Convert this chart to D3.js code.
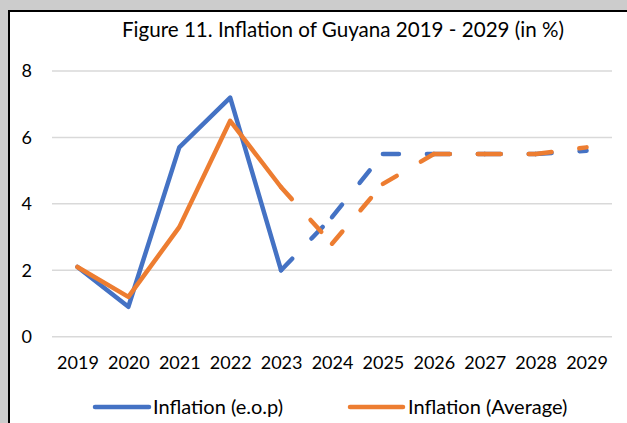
<!DOCTYPE html>
<html>
<head>
<meta charset="utf-8">
<script src="https://cdn.jsdelivr.net/npm/d3@7"></script>
<style>
  html, body { margin: 0; padding: 0; background: #cccccc; }
  svg { display: block; }
  text { font-family: Lato, "Open Sans", sans-serif; fill: #000; }
</style>
</head>
<body>
<svg id="chart" width="627" height="423"></svg>
<script>
const title = "Figure 11. Inflation of Guyana 2019 - 2029 (in %)";
const years = ["2019","2020","2021","2022","2023","2024","2025","2026","2027","2028","2029"];
const eop = [2.1, 0.9, 5.7, 7.2, 2.0, 3.6, 5.5, 5.5, 5.5, 5.5, 5.6];
const avg = [2.1, 1.2, 3.3, 6.5, 4.5, 2.8, 4.6, 5.5, 5.5, 5.5, 5.7];
const yTicks = [0, 2, 4, 6, 8];
const seriesNames = ["Inflation (e.o.p)", "Inflation (Average)"];
const colors = ["#4472C4", "#ED7D31"];
const forecastStart = 4; // index of 2023: segments after it are dashed

const svg = d3.select("#chart");
// chart frame (extends beyond the visible window on right/bottom)
svg.append("rect").attr("x", 9).attr("y", 11).attr("width", 680).attr("height", 440)
  .attr("fill", "#fff").attr("stroke", "#000").attr("stroke-width", 2);

const x = d3.scalePoint().domain(years).range([52, 612]).padding(0.5);
const y = d3.scaleLinear().domain([0, 8]).range([336.7, 71]);

// gridlines
svg.append("g").selectAll("line").data(yTicks).join("line")
  .attr("x1", 52).attr("x2", 612)
  .attr("y1", d => y(d)).attr("y2", d => y(d))
  .attr("stroke", "#d9d9d9").attr("stroke-width", 1.5);

// y axis labels
const yAxis = d3.axisLeft(y).tickValues(yTicks).tickSize(0).tickPadding(0);
const gy = svg.append("g").attr("transform", "translate(32,0)").call(yAxis);
gy.select(".domain").remove();
gy.selectAll("text").attr("font-size", 18).attr("font-family", "Lato, sans-serif").attr("fill", "#000");

// x axis labels
const xAxis = d3.axisBottom(x).tickSize(0).tickPadding(0);
const gx = svg.append("g").attr("transform", "translate(0,356)").call(xAxis);
gx.select(".domain").remove();
gx.selectAll("text").attr("font-size", 18).attr("font-family", "Lato, sans-serif").attr("fill", "#000");

// series
const line = d3.line().x(d => x(d.year)).y(d => y(d.v));
[eop, avg].forEach((vals, si) => {
  const pts = years.map((yr, i) => ({year: yr, v: vals[i]}));
  const g = svg.append("g");
  g.append("path").attr("d", line(pts.slice(0, forecastStart + 1)))
    .attr("fill", "none").attr("stroke", colors[si]).attr("stroke-width", 4.5)
    .attr("stroke-linejoin", "round").attr("stroke-linecap", "round");
  for (let i = forecastStart; i < pts.length - 1; i++) {
    g.append("path").attr("d", line([pts[i], pts[i + 1]]))
      .attr("fill", "none").attr("stroke", colors[si]).attr("stroke-width", 4.5)
      .attr("stroke-dasharray", "16 28").attr("stroke-linecap", "round");
  }
});

// title
svg.append("text").attr("x", 343).attr("y", 37).attr("text-anchor", "middle")
  .attr("font-size", 20.6).text(title);

// legend
const legend = [{x1: 95, x2: 149, tx: 153}, {x1: 350, x2: 403, tx: 408}];
legend.forEach((l, i) => {
  svg.append("line").attr("x1", l.x1).attr("x2", l.x2).attr("y1", 407).attr("y2", 407)
    .attr("stroke", colors[i]).attr("stroke-width", 4.5).attr("stroke-linecap", "round");
  svg.append("text").attr("x", l.tx).attr("y", 414).attr("font-size", 20).text(seriesNames[i]);
});
</script>
</body>
</html>
